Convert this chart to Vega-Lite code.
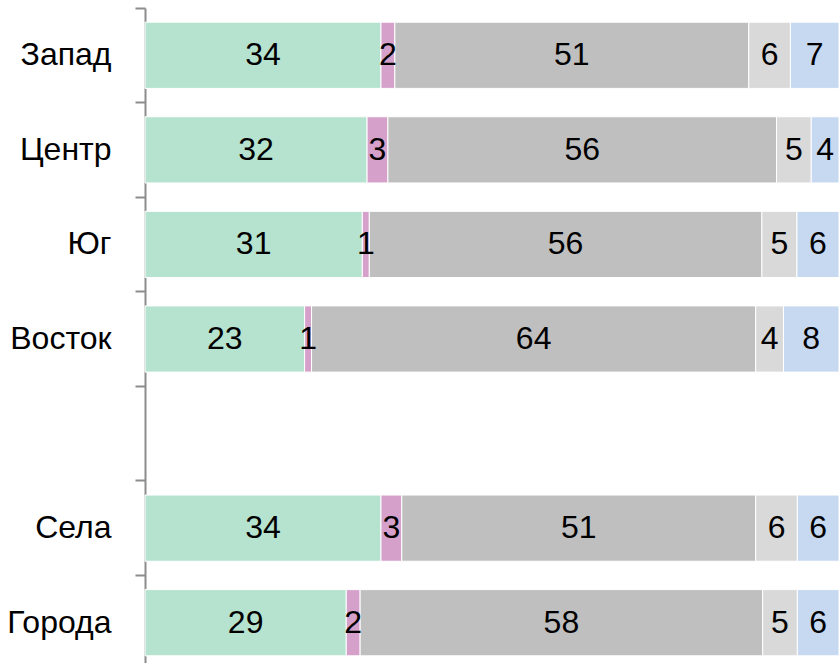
{
  "$schema": "https://vega.github.io/schema/vega-lite/v6.json",
  "autosize": "none",
  "padding": {"left": 145, "top": 8, "right": 0, "bottom": 0},
  "width": 694,
  "height": 662,
  "background": "white",
  "config": {"view": {"stroke": null}},
  "data": {
    "values": [
      {"region": "Запад", "seg": "A", "k": 1, "value": 34},
      {"region": "Запад", "seg": "B", "k": 2, "value": 2},
      {"region": "Запад", "seg": "C", "k": 3, "value": 51},
      {"region": "Запад", "seg": "D", "k": 4, "value": 6},
      {"region": "Запад", "seg": "E", "k": 5, "value": 7},
      {"region": "Центр", "seg": "A", "k": 1, "value": 32},
      {"region": "Центр", "seg": "B", "k": 2, "value": 3},
      {"region": "Центр", "seg": "C", "k": 3, "value": 56},
      {"region": "Центр", "seg": "D", "k": 4, "value": 5},
      {"region": "Центр", "seg": "E", "k": 5, "value": 4},
      {"region": "Юг", "seg": "A", "k": 1, "value": 31},
      {"region": "Юг", "seg": "B", "k": 2, "value": 1},
      {"region": "Юг", "seg": "C", "k": 3, "value": 56},
      {"region": "Юг", "seg": "D", "k": 4, "value": 5},
      {"region": "Юг", "seg": "E", "k": 5, "value": 6},
      {"region": "Восток", "seg": "A", "k": 1, "value": 23},
      {"region": "Восток", "seg": "B", "k": 2, "value": 1},
      {"region": "Восток", "seg": "C", "k": 3, "value": 64},
      {"region": "Восток", "seg": "D", "k": 4, "value": 4},
      {"region": "Восток", "seg": "E", "k": 5, "value": 8},
      {"region": "Села", "seg": "A", "k": 1, "value": 34},
      {"region": "Села", "seg": "B", "k": 2, "value": 3},
      {"region": "Села", "seg": "C", "k": 3, "value": 51},
      {"region": "Села", "seg": "D", "k": 4, "value": 6},
      {"region": "Села", "seg": "E", "k": 5, "value": 6},
      {"region": "Города", "seg": "A", "k": 1, "value": 29},
      {"region": "Города", "seg": "B", "k": 2, "value": 2},
      {"region": "Города", "seg": "C", "k": 3, "value": 58},
      {"region": "Города", "seg": "D", "k": 4, "value": 5},
      {"region": "Города", "seg": "E", "k": 5, "value": 6}
    ]
  },
  "transform": [
    {"stack": "value", "groupby": ["region"], "sort": [{"field": "k"}], "offset": "normalize", "as": ["x0", "x1"]},
    {"calculate": "(datum.x0 + datum.x1) / 2", "as": "xm"}
  ],
  "encoding": {
    "y": {
      "field": "region",
      "type": "nominal",
      "scale": {"domain": ["Запад", "Центр", "Юг", "Восток", " ", "Села", "Города"], "paddingInner": 0, "paddingOuter": 0},
      "axis": {
        "title": null,
        "domainColor": "#8c8c8c",
        "domainWidth": 2,
        "tickColor": "#8c8c8c",
        "tickWidth": 2,
        "tickSize": 10,
        "bandPosition": 0,
        "labelFont": "Liberation Sans",
        "labelFontSize": 32,
        "labelColor": "black",
        "labelPadding": 24,
        "labelLimit": 0
      }
    }
  },
  "layer": [
    {
      "mark": {"type": "bar", "height": {"band": 0.7}, "stroke": "white", "strokeWidth": 1},
      "encoding": {
        "x": {"field": "x0", "type": "quantitative", "scale": {"domain": [0, 1]}, "axis": null},
        "x2": {"field": "x1"},
        "color": {
          "field": "seg",
          "type": "nominal",
          "scale": {"domain": ["A", "B", "C", "D", "E"], "range": ["#b6e3cf", "#d5a1cb", "#bfbfbf", "#d9d9d9", "#c6d9f0"]},
          "legend": null
        }
      }
    },
    {
      "mark": {"type": "text", "font": "Liberation Sans", "fontSize": 32, "baseline": "middle", "color": "black"},
      "encoding": {
        "x": {"field": "xm", "type": "quantitative"},
        "text": {"field": "value", "type": "quantitative"}
      }
    }
  ]
}
